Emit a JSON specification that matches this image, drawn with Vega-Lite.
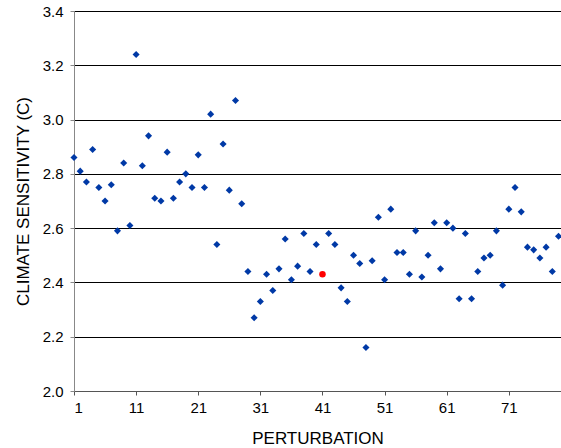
{
  "$schema": "https://vega.github.io/schema/vega-lite/v6.json",
  "width": 487,
  "height": 380,
  "autosize": {"type": "none"},
  "padding": {"left": 74, "top": 11, "right": 0, "bottom": 57},
  "background": "white",
  "config": {
    "view": {"stroke": null},
    "font": "Liberation Sans",
    "axis": {"labelFont": "Liberation Sans", "titleFont": "Liberation Sans", "labelFontSize": 15, "titleFontSize": 17, "titleFontWeight": "normal", "labelColor": "#000", "titleColor": "#000"}
  },
  "data": {"values": [
    {"p":1,"s":2.86,"g":"run"},{"p":2,"s":2.81,"g":"run"},{"p":3,"s":2.77,"g":"run"},{"p":4,"s":2.89,"g":"run"},{"p":5,"s":2.75,"g":"run"},
    {"p":6,"s":2.70,"g":"run"},{"p":7,"s":2.76,"g":"run"},{"p":8,"s":2.59,"g":"run"},{"p":9,"s":2.84,"g":"run"},{"p":10,"s":2.61,"g":"run"},
    {"p":11,"s":3.24,"g":"run"},{"p":12,"s":2.83,"g":"run"},{"p":13,"s":2.94,"g":"run"},{"p":14,"s":2.71,"g":"run"},{"p":15,"s":2.70,"g":"run"},
    {"p":16,"s":2.88,"g":"run"},{"p":17,"s":2.71,"g":"run"},{"p":18,"s":2.77,"g":"run"},{"p":19,"s":2.80,"g":"run"},{"p":20,"s":2.75,"g":"run"},
    {"p":21,"s":2.87,"g":"run"},{"p":22,"s":2.75,"g":"run"},{"p":23,"s":3.02,"g":"run"},{"p":24,"s":2.54,"g":"run"},{"p":25,"s":2.91,"g":"run"},
    {"p":26,"s":2.74,"g":"run"},{"p":27,"s":3.07,"g":"run"},{"p":28,"s":2.69,"g":"run"},{"p":29,"s":2.44,"g":"run"},{"p":30,"s":2.27,"g":"run"},
    {"p":31,"s":2.33,"g":"run"},{"p":32,"s":2.43,"g":"run"},{"p":33,"s":2.37,"g":"run"},{"p":34,"s":2.45,"g":"run"},{"p":35,"s":2.56,"g":"run"},
    {"p":36,"s":2.41,"g":"run"},{"p":37,"s":2.46,"g":"run"},{"p":38,"s":2.58,"g":"run"},{"p":39,"s":2.44,"g":"run"},{"p":40,"s":2.54,"g":"run"},
    {"p":41,"s":2.43,"g":"ref"},{"p":42,"s":2.58,"g":"run"},{"p":43,"s":2.54,"g":"run"},{"p":44,"s":2.38,"g":"run"},{"p":45,"s":2.33,"g":"run"},
    {"p":46,"s":2.50,"g":"run"},{"p":47,"s":2.47,"g":"run"},{"p":48,"s":2.16,"g":"run"},{"p":49,"s":2.48,"g":"run"},{"p":50,"s":2.64,"g":"run"},
    {"p":51,"s":2.41,"g":"run"},{"p":52,"s":2.67,"g":"run"},{"p":53,"s":2.51,"g":"run"},{"p":54,"s":2.51,"g":"run"},{"p":55,"s":2.43,"g":"run"},
    {"p":56,"s":2.59,"g":"run"},{"p":57,"s":2.42,"g":"run"},{"p":58,"s":2.50,"g":"run"},{"p":59,"s":2.62,"g":"run"},{"p":60,"s":2.45,"g":"run"},
    {"p":61,"s":2.62,"g":"run"},{"p":62,"s":2.60,"g":"run"},{"p":63,"s":2.34,"g":"run"},{"p":64,"s":2.58,"g":"run"},{"p":65,"s":2.34,"g":"run"},
    {"p":66,"s":2.44,"g":"run"},{"p":67,"s":2.49,"g":"run"},{"p":68,"s":2.50,"g":"run"},{"p":69,"s":2.59,"g":"run"},{"p":70,"s":2.39,"g":"run"},
    {"p":71,"s":2.67,"g":"run"},{"p":72,"s":2.75,"g":"run"},{"p":73,"s":2.66,"g":"run"},{"p":74,"s":2.53,"g":"run"},{"p":75,"s":2.52,"g":"run"},
    {"p":76,"s":2.49,"g":"run"},{"p":77,"s":2.53,"g":"run"},{"p":78,"s":2.44,"g":"run"},{"p":79,"s":2.57,"g":"run"}
  ]},
  "mark": {"type": "point", "filled": true, "opacity": 1, "clip": false},
  "encoding": {
    "x": {"field": "p", "type": "quantitative", "title": "PERTURBATION",
      "scale": {"domain": [1, 79.4], "nice": false, "zero": false},
      "axis": {"values": [1,11,21,31,41,51,61,71], "grid": false, "domainColor": "#555", "tickColor": "#555", "tickSize": 4, "labelPadding": 5, "titlePadding": 15}},
    "y": {"field": "s", "type": "quantitative", "title": "CLIMATE SENSITIVITY (C)",
      "scale": {"domain": [2.0, 3.4], "nice": false, "zero": false},
      "axis": {"values": [2.0,2.2,2.4,2.6,2.8,3.0,3.2,3.4], "format": ".1f", "grid": true, "gridColor": "#000", "gridOpacity": 1, "gridWidth": 1, "domainColor": "#888", "tickColor": "#888", "tickSize": 4, "labelPadding": 7, "titlePadding": 10}},
    "color": {"field": "g", "type": "nominal", "scale": {"domain": ["run","ref"], "range": ["#0039a6","#ff0000"]}, "legend": null},
    "shape": {"field": "g", "type": "nominal", "scale": {"domain": ["run","ref"], "range": ["diamond","circle"]}, "legend": null},
    "size": {"field": "g", "type": "nominal", "scale": {"domain": ["run","ref"], "range": [50, 42]}, "legend": null}
  }
}
